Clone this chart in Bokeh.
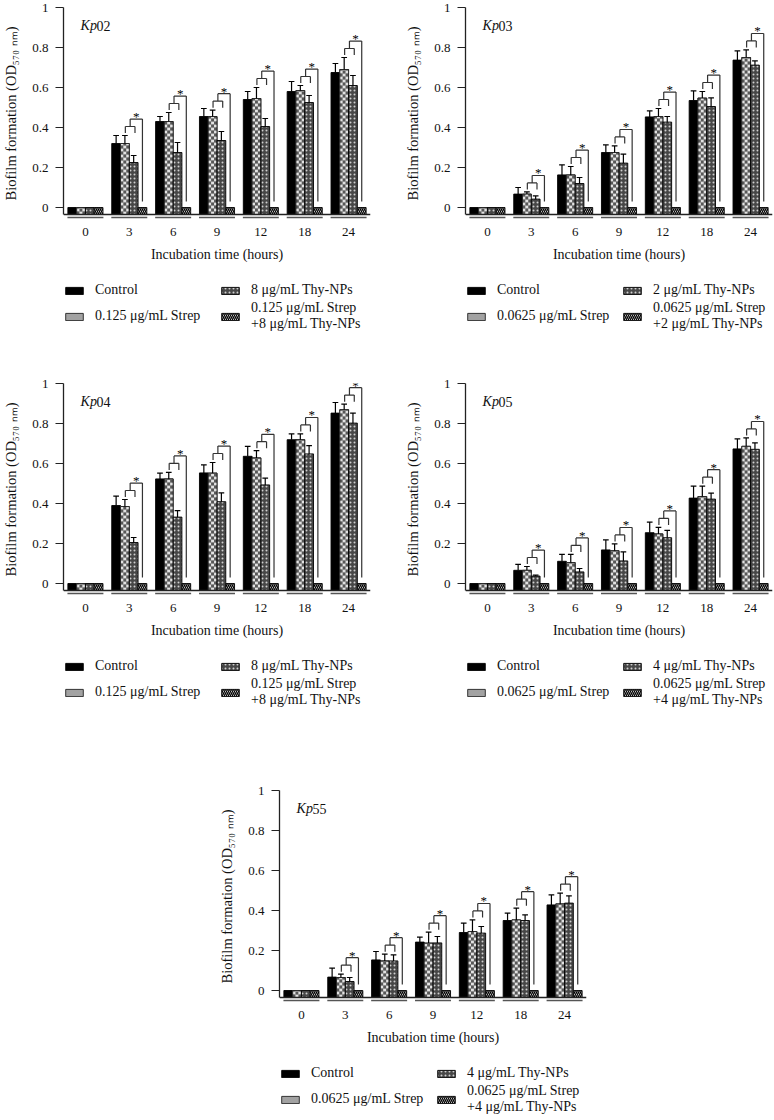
from bokeh.plotting import figure
from bokeh.models import (ColumnDataSource, FactorRange, Range1d, Span, Label, Legend, LegendItem,
                          FixedTicker, CustomJSTickFormatter, Spacer)
from bokeh.transform import dodge
from bokeh.layouts import row, column
from bokeh.core.properties import value
from bokeh.embed import file_html
from bokeh.resources import INLINE

# ---------------- data ----------------
times = ["0", "3", "6", "9", "12", "18", "24"]

kp02_ctrl = [0, 0.32, 0.43, 0.455, 0.54, 0.58, 0.675]
kp02_ctrl_err = [0, 0.04, 0.025, 0.04, 0.04, 0.05, 0.045]
kp02_strep = [0, 0.32, 0.43, 0.455, 0.545, 0.585, 0.69]
kp02_strep_err = [0, 0.04, 0.045, 0.032, 0.055, 0.025, 0.06]
kp02_thy = [0, 0.225, 0.275, 0.335, 0.405, 0.525, 0.61]
kp02_thy_err = [0, 0.035, 0.05, 0.045, 0.04, 0.035, 0.05]
kp02_combo = [0, 0, 0, 0, 0, 0, 0]

kp03_ctrl = [0, 0.067, 0.163, 0.275, 0.453, 0.535, 0.737]
kp03_ctrl_err = [0, 0.033, 0.05, 0.038, 0.03, 0.048, 0.046]
kp03_strep = [0, 0.067, 0.163, 0.275, 0.455, 0.547, 0.75]
kp03_strep_err = [0, 0.011, 0.042, 0.033, 0.04, 0.033, 0.038]
kp03_thy = [0, 0.042, 0.12, 0.222, 0.427, 0.505, 0.712]
kp03_thy_err = [0, 0.016, 0.03, 0.045, 0.028, 0.043, 0.021]
kp03_combo = [0, 0, 0, 0, 0, 0, 0]

kp04_ctrl = [0, 0.39, 0.523, 0.553, 0.636, 0.719, 0.852]
kp04_ctrl_err = [0, 0.047, 0.029, 0.04, 0.05, 0.029, 0.053]
kp04_strep = [0, 0.385, 0.523, 0.552, 0.628, 0.719, 0.869]
kp04_strep_err = [0, 0.035, 0.033, 0.053, 0.036, 0.029, 0.028]
kp04_thy = [0, 0.205, 0.332, 0.409, 0.493, 0.648, 0.802]
kp04_thy_err = [0, 0.025, 0.032, 0.044, 0.034, 0.041, 0.05]
kp04_combo = [0, 0, 0, 0, 0, 0, 0]

kp05_ctrl = [0, 0.066, 0.111, 0.168, 0.254, 0.427, 0.673]
kp05_ctrl_err = [0, 0.03, 0.035, 0.05, 0.053, 0.06, 0.05]
kp05_strep = [0, 0.066, 0.105, 0.164, 0.248, 0.435, 0.686]
kp05_strep_err = [0, 0.019, 0.041, 0.034, 0.033, 0.052, 0.042]
kp05_thy = [0, 0.037, 0.058, 0.113, 0.229, 0.422, 0.671]
kp05_thy_err = [0, 0.005, 0.017, 0.045, 0.037, 0.03, 0.032]
kp05_combo = [0, 0, 0, 0, 0, 0, 0]

kp55_ctrl = [0, 0.067, 0.153, 0.242, 0.29, 0.35, 0.428]
kp55_ctrl_err = [0, 0.045, 0.042, 0.025, 0.047, 0.037, 0.05]
kp55_strep = [0, 0.065, 0.148, 0.237, 0.295, 0.353, 0.433]
kp55_strep_err = [0, 0.017, 0.034, 0.055, 0.058, 0.059, 0.054]
kp55_thy = [0, 0.045, 0.148, 0.238, 0.287, 0.35, 0.437]
kp55_thy_err = [0, 0.02, 0.03, 0.032, 0.033, 0.028, 0.036]
kp55_combo = [0, 0, 0, 0, 0, 0, 0]

y_ticks = [0, 0.2, 0.4, 0.6, 0.8, 1.0]

# ---------------- style ----------------
FONT = "Liberation Serif"
YMIN = -0.06
XLINE = -0.035    # baseline drawn under the bars
SEG_Y = -0.05
SQ_Y = 0.015      # checker square height (data units)
NCOL = 3          # checker squares across a bar
BAR_W = 0.2
FRAME_H = 212
AXIS_B = 47       # room for the category axis under the frame
LEG_TOP = 14
LEG_H = 56

STYLE_CTRL = dict(fill_color="black", line_color="black", line_width=0.9)
STYLE_STREP = dict(fill_color="#a2a2a2", line_color="#222222", line_width=0.9)
STYLE_THY = dict(fill_color="#474747", line_color="black", line_width=0.9,
                 hatch_pattern="dot", hatch_color="#d0d0d0", hatch_scale=4, hatch_weight=1)
STYLE_COMBO = dict(fill_color="white", line_color="black", line_width=0.9,
                   hatch_pattern="\\", hatch_color="black", hatch_scale=4, hatch_weight=1.4)


def make_panel(tag, ctrl, ctrl_e, strep, strep_e, thy, thy_e, combo,
               strep_lab, thy_lab, combo_lab, bl, fw, br, leg_bottom):
    p = figure(x_range=FactorRange(factors=times, range_padding=0),
               y_range=Range1d(YMIN, 1.0),
               frame_width=fw, frame_height=FRAME_H,
               min_border_left=bl, min_border_right=br, min_border_top=7, min_border_bottom=AXIS_B,
               output_backend="svg", toolbar_location=None)
    p.xgrid.visible = False
    p.ygrid.visible = False
    p.outline_line_color = None
    p.background_fill_color = "white"

    src = ColumnDataSource(dict(t=times, ctrl=ctrl, strep=strep, thy=thy, combo=combo))
    xr = p.x_range

    p.vbar(x=dodge("t", -0.3, range=xr), top="ctrl", bottom=XLINE, width=BAR_W, source=src, **STYLE_CTRL)
    p.vbar(x=dodge("t", -0.1, range=xr), top="strep", bottom=XLINE, width=BAR_W, source=src, **STYLE_STREP)
    # checker texture of the Strep bars, built from the bar heights
    cw = BAR_W / NCOL
    for c in range(NCOL):
        xo = -0.1 - BAR_W / 2 + (c + 0.5) * cw
        dark = dict(t=[], y=[], h=[])
        light = dict(t=[], y=[], h=[])
        for i, t in enumerate(times):
            v = strep[i]
            r = 0
            y0 = XLINE
            while y0 < v - 1e-9:
                y1 = min(y0 + SQ_Y, v)
                d = dark if (r + c) % 2 == 0 else light
                d["t"].append(t)
                d["y"].append((y0 + y1) / 2)
                d["h"].append(y1 - y0)
                r += 1
                y0 = XLINE + r * SQ_Y
        p.rect(x=dodge("t", xo, range=xr), y="y", width=cw, height="h",
               source=ColumnDataSource(light), fill_color="#e2e2e2", line_color=None)
        p.rect(x=dodge("t", xo, range=xr), y="y", width=cw, height="h",
               source=ColumnDataSource(dark), fill_color="#575757", line_color=None)
    p.vbar(x=dodge("t", -0.1, range=xr), top="strep", bottom=XLINE, width=BAR_W, source=src,
           fill_color=None, line_color="#222222", line_width=0.9)
    p.vbar(x=dodge("t", 0.1, range=xr), top="thy", bottom=XLINE, width=BAR_W, source=src, **STYLE_THY)
    p.vbar(x=dodge("t", 0.3, range=xr), top="combo", bottom=XLINE, width=BAR_W, source=src, **STYLE_COMBO)

    # error bars (upper only)
    for off, vals, err in [(-0.3, ctrl, ctrl_e), (-0.1, strep, strep_e), (0.1, thy, thy_e)]:
        idx = [i for i in range(len(times)) if err[i] > 0]
        es = ColumnDataSource(dict(t=[times[i] for i in idx],
                                   lo=[vals[i] for i in idx],
                                   hi=[vals[i] + err[i] for i in idx]))
        p.segment(x0=dodge("t", off, range=xr), x1=dodge("t", off, range=xr),
                  y0="lo", y1="hi", source=es, line_color="black", line_width=1.2)
        p.segment(x0=dodge("t", off - 0.065, range=xr), x1=dodge("t", off + 0.065, range=xr),
                  y0="hi", y1="hi", source=es, line_color="black", line_width=1.2)

    # significance brackets
    gi = [i for i in range(len(times)) if ctrl[i] > 0]
    s_top = [max(strep[i] + strep_e[i], thy[i] + thy_e[i]) + 0.045 for i in gi]
    bs = ColumnDataSource(dict(
        t=[times[i] for i in gi],
        s_top=s_top,
        s_low=[s - 0.033 for s in s_top],
        b_top=[s + 0.037 for s in s_top],
        ast=[s + 0.05 for s in s_top],
    ))
    bk = dict(source=bs, line_color="#333333", line_width=1.2)
    p.segment(x0=dodge("t", -0.09, range=xr), x1=dodge("t", -0.09, range=xr), y0="s_low", y1="s_top", **bk)
    p.segment(x0=dodge("t", -0.09, range=xr), x1=dodge("t", 0.13, range=xr), y0="s_top", y1="s_top", **bk)
    p.segment(x0=dodge("t", 0.13, range=xr), x1=dodge("t", 0.13, range=xr), y0="s_low", y1="s_top", **bk)
    p.segment(x0=dodge("t", 0.02, range=xr), x1=dodge("t", 0.02, range=xr), y0="s_top", y1="b_top", **bk)
    p.segment(x0=dodge("t", 0.02, range=xr), x1=dodge("t", 0.3, range=xr), y0="b_top", y1="b_top", **bk)
    p.segment(x0=dodge("t", 0.3, range=xr), x1=dodge("t", 0.3, range=xr), y0="b_top", y1=0.03, **bk)
    p.text(x=dodge("t", 0.16, range=xr), y="ast", text=value("*"), source=bs,
           text_font=value(FONT), text_font_size="13px", text_align="center",
           text_baseline="alphabetic", text_color="black")

    # x baseline and group underlines
    p.add_layout(Span(location=XLINE, dimension="width", line_color="#222222", line_width=1.3))
    p.segment(x0=dodge("t", -0.41, range=xr), x1=dodge("t", 0.41, range=xr), y0=SEG_Y, y1=SEG_Y,
              source=src, line_color="#555555", line_width=1.6)

    # axes
    xa = p.xaxis[0]
    xa.axis_line_color = None
    xa.major_tick_line_color = None
    xa.minor_tick_line_color = None
    xa.major_label_text_font = FONT
    xa.major_label_text_font_size = "13px"
    xa.major_label_text_color = "#111111"
    xa.major_label_standoff = 2
    xa.axis_label = "Incubation time (hours)"
    xa.axis_label_text_font = FONT
    xa.axis_label_text_font_size = "14px"
    xa.axis_label_text_font_style = "normal"
    xa.axis_label_text_color = "#111111"
    xa.axis_label_standoff = 8

    ya = p.yaxis[0]
    ya.ticker = FixedTicker(ticks=y_ticks)
    ya.formatter = CustomJSTickFormatter(
        code="return (tick == 0 || tick == 1) ? tick.toFixed(0) : tick.toFixed(1);")
    ya.bounds = (XLINE, 1.0)
    ya.axis_line_color = "#222222"
    ya.axis_line_width = 1.3
    ya.major_tick_line_color = "#222222"
    ya.major_tick_line_width = 1.2
    ya.major_tick_out = 8
    ya.major_tick_in = 0
    ya.minor_tick_line_color = None
    ya.major_label_text_font = FONT
    ya.major_label_text_font_size = "13px"
    ya.major_label_text_color = "#111111"
    ya.major_label_standoff = 7
    ya.axis_label = "Biofilm formation (OD\u2085\u2087\u2080 \u2099\u2098)"
    ya.axis_label_text_font = FONT
    ya.axis_label_text_font_size = "14.5px"
    ya.axis_label_text_font_style = "normal"
    ya.axis_label_text_color = "#111111"
    ya.axis_label_standoff = 10

    # strain label
    p.add_layout(Label(x=0.39, y=0.91, text="Kp", text_font=FONT, text_font_size="14px",
                       text_font_style="italic", text_baseline="middle", text_color="#111111"))
    p.add_layout(Label(x=0.39, y=0.91, x_offset=16, text=tag, text_font=FONT, text_font_size="14px",
                       text_baseline="middle", text_color="#111111"))

    # legend strip under the panel; its renderers share the data but are not drawn
    lf = figure(x_range=xr, y_range=Range1d(YMIN, 1.0),
                frame_width=fw, frame_height=LEG_H,
                min_border_left=bl, min_border_right=br, min_border_top=LEG_TOP,
                min_border_bottom=leg_bottom, x_axis_location=None, y_axis_location=None,
                output_backend="svg", toolbar_location=None)
    lf.outline_line_color = None
    lf.xgrid.visible = False
    lf.ygrid.visible = False
    l_ctrl = lf.vbar(x=dodge("t", -0.3, range=xr), top="ctrl", bottom=XLINE, width=BAR_W, source=src, **STYLE_CTRL)
    l_strep = lf.vbar(x=dodge("t", -0.1, range=xr), top="strep", bottom=XLINE, width=BAR_W, source=src, **STYLE_STREP)
    l_thy = lf.vbar(x=dodge("t", 0.1, range=xr), top="thy", bottom=XLINE, width=BAR_W, source=src, **STYLE_THY)
    l_combo = lf.vbar(x=dodge("t", 0.3, range=xr), top="combo", bottom=XLINE, width=BAR_W, source=src, **STYLE_COMBO)
    for r_ in (l_ctrl, l_strep, l_thy, l_combo):
        r_.visible = False
    items = [
        LegendItem(label="Control", renderers=[l_ctrl]),
        LegendItem(label=strep_lab, renderers=[l_strep]),
        LegendItem(label=thy_lab, renderers=[l_thy]),
        LegendItem(label=combo_lab, renderers=[l_combo]),
    ]
    leg = Legend(items=items, location="top_left", ncols=2,
                 glyph_width=22, glyph_height=9, label_standoff=10, label_width=124,
                 label_height=20, spacing=0, padding=0, margin=0,
                 border_line_color=None, background_fill_alpha=0,
                 inactive_fill_alpha=0,
                 label_text_font=FONT, label_text_font_size="14px", label_text_color="#111111",
                 label_text_line_height=1.3)
    lf.add_layout(leg, "center")
    return column(p, lf)


p1 = make_panel("02", kp02_ctrl, kp02_ctrl_err, kp02_strep, kp02_strep_err, kp02_thy, kp02_thy_err, kp02_combo,
                "0.125 \u03bcg/mL Strep", "8 \u03bcg/mL Thy-NPs", "0.125 \u03bcg/mL Strep\n+8 \u03bcg/mL Thy-NPs",
                61, 307, 17, 40)
p2 = make_panel("03", kp03_ctrl, kp03_ctrl_err, kp03_strep, kp03_strep_err, kp03_thy, kp03_thy_err, kp03_combo,
                "0.0625 \u03bcg/mL Strep", "2 \u03bcg/mL Thy-NPs", "0.0625 \u03bcg/mL Strep\n+2 \u03bcg/mL Thy-NPs",
                78, 307, 4, 40)
p3 = make_panel("04", kp04_ctrl, kp04_ctrl_err, kp04_strep, kp04_strep_err, kp04_thy, kp04_thy_err, kp04_combo,
                "0.125 \u03bcg/mL Strep", "8 \u03bcg/mL Thy-NPs", "0.125 \u03bcg/mL Strep\n+8 \u03bcg/mL Thy-NPs",
                61, 307, 17, 71)
p4 = make_panel("05", kp05_ctrl, kp05_ctrl_err, kp05_strep, kp05_strep_err, kp05_thy, kp05_thy_err, kp05_combo,
                "0.0625 \u03bcg/mL Strep", "4 \u03bcg/mL Thy-NPs", "0.0625 \u03bcg/mL Strep\n+4 \u03bcg/mL Thy-NPs",
                78, 307, 4, 71)
p5 = make_panel("55", kp55_ctrl, kp55_ctrl_err, kp55_strep, kp55_strep_err, kp55_thy, kp55_thy_err, kp55_combo,
                "0.0625 \u03bcg/mL Strep", "4 \u03bcg/mL Thy-NPs", "0.0625 \u03bcg/mL Strep\n+4 \u03bcg/mL Thy-NPs",
                61, 307, 17, 0)

layout = column(row(p1, p2), row(p3, p4), row(Spacer(width=216, height=336), p5))

open("out.html", "w").write(file_html(layout, INLINE))
